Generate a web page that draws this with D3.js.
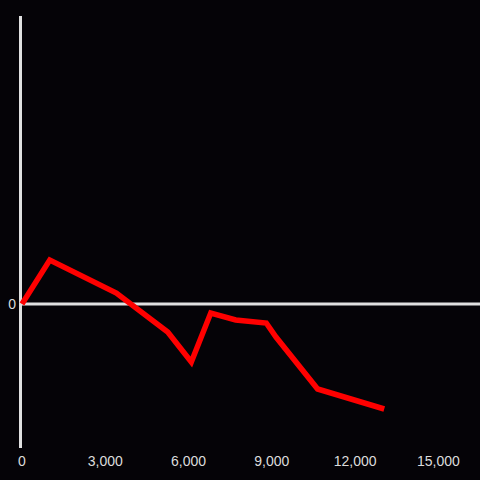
<!DOCTYPE html>
<meta charset="utf-8">
<style>
body { margin: 0; background: #050307; }
svg { display: block; background: #050307; }
.tick-label { fill: #dcdcdc; font-family: "Liberation Sans", Arial, sans-serif; font-size: 14px; }
</style>
<svg width="480" height="480"></svg>
<script src="https://d3js.org/d3.v7.min.js"></script>
<script>

var xValues = [0, 1000, 3400, 5250, 6100, 6800, 7700, 8800, 9150, 10650, 13050];
var yValues = [0, 44, 11, -28, -58, -9, -16, -19, -33, -85, -105];
var xTicks = [0, 3000, 6000, 9000, 12000, 15000];
var yTicks = [0];

var svg = d3.select("svg"),
    width = +svg.attr("width"),
    height = +svg.attr("height");

var x = d3.scaleLinear()
    .domain([0, 16500])
    .range([22, 480]);

var y = d3.scaleLinear()
    .domain([-144, 288])
    .range([448, 16]);

// y axis line
svg.append("line")
    .attr("x1", x(0) - 1.5).attr("x2", x(0) - 1.5)
    .attr("y1", y(288)).attr("y2", y(-144))
    .attr("stroke", "#e0e0e0")
    .attr("stroke-width", 3);

// zero line
svg.append("line")
    .attr("x1", x(0) - 1.5).attr("x2", width)
    .attr("y1", y(0)).attr("y2", y(0))
    .attr("stroke", "#e0e0e0")
    .attr("stroke-width", 3);

svg.selectAll(".ylab")
    .data(yTicks)
  .enter().append("text")
    .attr("class", "tick-label")
    .attr("x", 16)
    .attr("y", function(d) { return y(d); })
    .attr("dy", "0.35em")
    .attr("text-anchor", "end")
    .text(function(d) { return d; });

var fmt = d3.format(",");
svg.selectAll(".xlab")
    .data(xTicks)
  .enter().append("text")
    .attr("class", "tick-label")
    .attr("x", function(d) { return x(d); })
    .attr("y", 466)
    .attr("text-anchor", "middle")
    .text(function(d) { return fmt(d); });

var line = d3.line()
    .x(function(d) { return x(d[0]); })
    .y(function(d) { return y(d[1]); });

svg.append("path")
    .datum(d3.zip(xValues, yValues))
    .attr("fill", "none")
    .attr("stroke", "#ff0000")
    .attr("stroke-width", 5.5)
    .attr("d", line);

</script>
